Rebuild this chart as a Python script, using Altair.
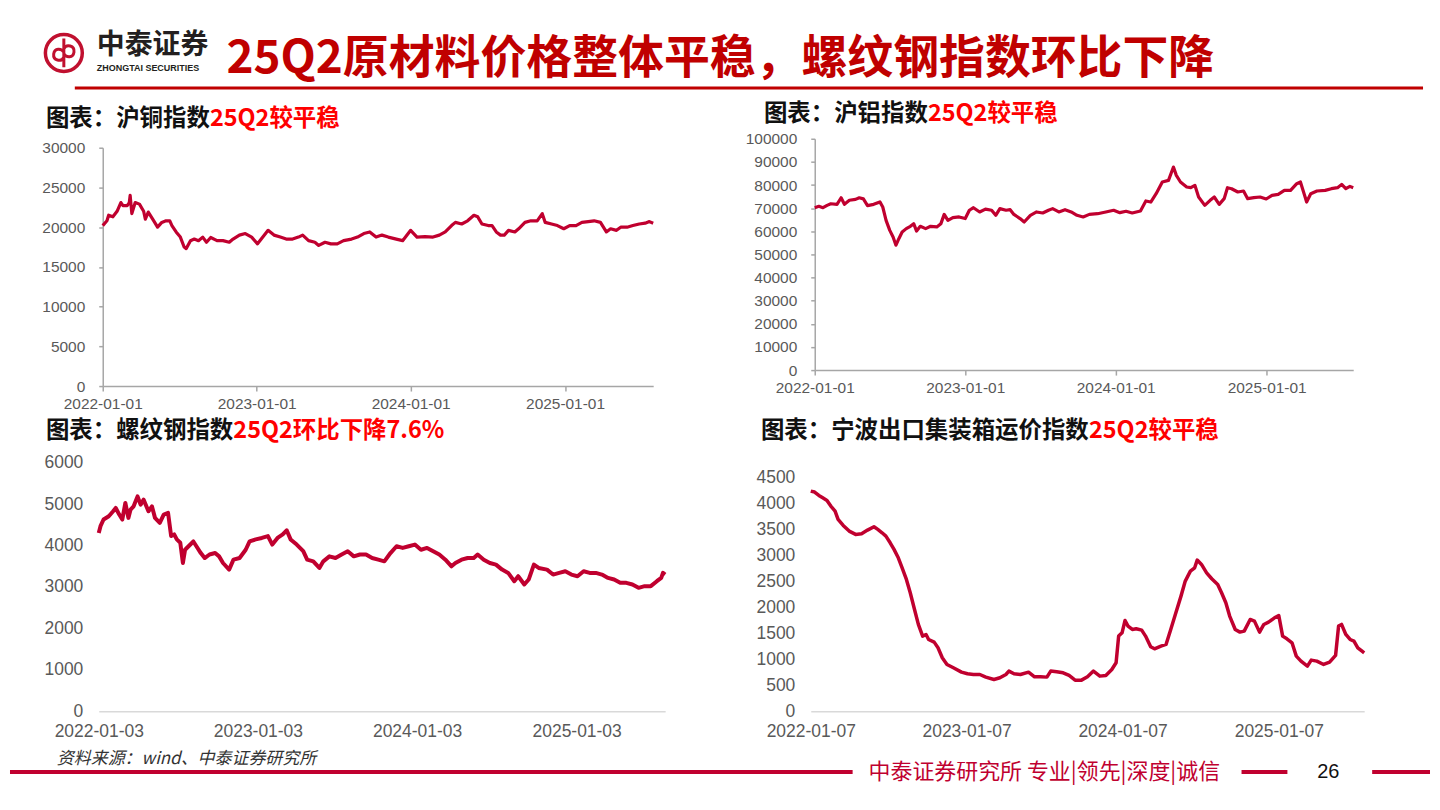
import altair as alt
import pandas as pd

# ---------------- data ----------------
# 沪铜指数 (top left)
cu_dates = [
    "2022-01-01", "2022-01-11", "2022-01-15", "2022-01-25", "2022-02-04", "2022-02-13", "2022-02-18",
    "2022-02-28", "2022-03-05", "2022-03-07", "2022-03-11", "2022-03-19", "2022-03-29", "2022-04-08",
    "2022-04-12", "2022-04-19", "2022-05-02", "2022-05-11", "2022-05-21", "2022-05-31", "2022-06-09",
    "2022-06-14", "2022-06-24", "2022-07-04", "2022-07-13", "2022-07-18", "2022-07-28", "2022-08-06",
    "2022-08-16", "2022-08-26", "2022-09-04", "2022-09-14", "2022-09-29", "2022-10-13", "2022-10-28",
    "2022-11-06", "2022-11-21", "2022-12-05", "2022-12-20", "2023-01-03", "2023-01-28", "2023-02-11",
    "2023-02-26", "2023-03-12", "2023-03-27", "2023-04-10", "2023-04-20", "2023-05-04", "2023-05-19",
    "2023-05-28", "2023-06-12", "2023-06-26", "2023-07-11", "2023-07-26", "2023-08-14", "2023-08-28",
    "2023-09-12", "2023-09-26", "2023-10-11", "2023-10-25", "2023-11-09", "2023-11-28", "2023-12-13",
    "2024-01-01", "2024-01-16", "2024-02-04", "2024-02-23", "2024-03-09", "2024-03-23", "2024-04-07",
    "2024-04-16", "2024-05-01", "2024-05-15", "2024-05-30", "2024-06-08", "2024-06-18", "2024-07-03",
    "2024-07-12", "2024-07-22", "2024-08-01", "2024-08-10", "2024-08-20", "2024-09-04", "2024-09-13",
    "2024-09-28", "2024-10-12", "2024-10-27", "2024-11-08", "2024-11-15", "2024-11-30", "2024-12-14",
    "2024-12-29", "2025-01-12", "2025-01-27", "2025-02-10", "2025-02-25", "2025-03-11", "2025-03-26",
    "2025-04-09", "2025-04-19", "2025-05-03", "2025-05-13", "2025-05-28", "2025-06-11", "2025-06-26",
    "2025-07-10", "2025-07-20", "2025-07-29",
]
cu_vals = [
    20200, 20800, 21500, 21300, 22000, 23100, 22700,
    22700, 23100, 24000, 21700, 23100, 22900, 22000,
    21000, 21900, 20800, 20000, 20600, 20800, 20800,
    20200, 19400, 18750, 17500, 17300, 18300, 18500,
    18300, 18750, 18100, 18700, 18300, 18300, 18100,
    18500, 19000, 19200, 18750, 17900, 19600, 19000,
    18750, 18500, 18500, 18750, 19000, 18300, 18100,
    17700, 18100, 17900, 17900, 18300, 18500, 18750,
    19200, 19400, 18750, 19000, 18750, 18500, 18300,
    19600, 18750, 18800, 18750, 19000, 19400, 20200,
    20600, 20400, 20800, 21500, 21300, 20400, 20200,
    20200, 19400, 19000, 19000, 19600, 19400, 19800,
    20600, 20800, 20800, 21700, 20600, 20400, 20200,
    19800, 20200, 20200, 20600, 20700, 20800, 20600,
    19400, 19800, 19600, 20000, 20000, 20200, 20400,
    20500, 20700, 20500,
]

# 沪铝指数 (top right)
al_dates = [
    "2022-01-01", "2022-01-11", "2022-01-21", "2022-01-31", "2022-02-09", "2022-02-24", "2022-03-06",
    "2022-03-14", "2022-03-26", "2022-04-10", "2022-04-19", "2022-04-29", "2022-05-09", "2022-05-24",
    "2022-06-08", "2022-06-15", "2022-06-23", "2022-07-02", "2022-07-10", "2022-07-17", "2022-07-24",
    "2022-08-01", "2022-08-11", "2022-08-21", "2022-08-29", "2022-09-05", "2022-09-14", "2022-09-27",
    "2022-10-09", "2022-10-24", "2022-11-03", "2022-11-11", "2022-11-20", "2022-12-02", "2022-12-17",
    "2023-01-01", "2023-01-11", "2023-01-21", "2023-02-05", "2023-02-19", "2023-03-06", "2023-03-16",
    "2023-03-26", "2023-04-10", "2023-04-20", "2023-04-29", "2023-05-14", "2023-05-24", "2023-06-08",
    "2023-06-23", "2023-07-08", "2023-07-22", "2023-08-01", "2023-08-16", "2023-08-31", "2023-09-15",
    "2023-09-29", "2023-10-14", "2023-10-29", "2023-11-18", "2023-12-08", "2023-12-27", "2024-01-11",
    "2024-01-26", "2024-02-10", "2024-03-01", "2024-03-14", "2024-03-26", "2024-04-08", "2024-04-23",
    "2024-05-08", "2024-05-20", "2024-05-27", "2024-06-06", "2024-06-21", "2024-07-01", "2024-07-11",
    "2024-07-20", "2024-08-04", "2024-08-17", "2024-08-27", "2024-09-08", "2024-09-20", "2024-09-28",
    "2024-10-08", "2024-10-23", "2024-11-06", "2024-11-16", "2024-12-01", "2024-12-16", "2024-12-31",
    "2025-01-14", "2025-01-29", "2025-02-13", "2025-02-28", "2025-03-15", "2025-03-24", "2025-04-03",
    "2025-04-08", "2025-04-18", "2025-05-03", "2025-05-23", "2025-06-07", "2025-06-22", "2025-07-02",
    "2025-07-12", "2025-07-22", "2025-07-30",
]
al_vals = [
    70200, 70800, 70200, 71200, 71900, 71650, 74500,
    71650, 73400, 73800, 74500, 74000, 71100, 71650,
    72700, 70500, 64700, 60400, 57550, 54000, 56800,
    59700, 61150, 62150, 63300, 60100, 62150, 61150,
    62150, 61900, 63300, 67300, 64700, 65900, 66200,
    65500, 69100, 70200, 68350, 69600, 69100, 66900,
    69800, 69100, 69350, 67300, 65500, 64000, 66900,
    68350, 67900, 69100, 69800, 68350, 69350, 68350,
    66900, 66200, 67300, 67600, 68350, 69100, 68050,
    68650, 67900, 68800, 73100, 72650, 76260, 81300,
    82000, 87770, 84170, 81300, 79140, 78850, 79860,
    74820, 71220, 73380, 74820, 71650, 74100, 78850,
    78400, 76980, 77400, 74100, 74530, 74820, 73960,
    75540, 75970, 77700, 77700, 80580, 81300, 75540,
    72660, 76260, 77410, 77700, 78420, 78850, 80280,
    78420, 79420, 78850,
]

# 螺纹钢指数 (bottom left)
rb_dates = [
    "2022-01-03", "2022-01-07", "2022-01-14", "2022-01-26", "2022-02-05", "2022-02-11", "2022-02-19",
    "2022-02-26", "2022-03-05", "2022-03-12", "2022-03-17", "2022-03-24", "2022-04-02", "2022-04-09",
    "2022-04-16", "2022-04-27", "2022-05-05", "2022-05-12", "2022-05-23", "2022-06-01", "2022-06-11",
    "2022-06-18", "2022-06-25", "2022-07-01", "2022-07-09", "2022-07-15", "2022-07-20", "2022-07-28",
    "2022-08-08", "2022-08-15", "2022-08-25", "2022-09-03", "2022-09-14", "2022-09-27", "2022-10-06",
    "2022-10-15", "2022-10-29", "2022-11-08", "2022-11-22", "2022-12-06", "2022-12-15", "2022-12-29",
    "2023-01-12", "2023-01-26", "2023-02-05", "2023-02-17", "2023-03-01", "2023-03-10", "2023-03-19",
    "2023-04-02", "2023-04-17", "2023-04-26", "2023-05-10", "2023-05-24", "2023-06-02", "2023-06-16",
    "2023-06-30", "2023-07-14", "2023-07-28", "2023-08-11", "2023-08-25", "2023-09-08", "2023-09-22",
    "2023-10-06", "2023-10-20", "2023-11-03", "2023-11-17", "2023-12-01", "2023-12-15", "2023-12-29",
    "2024-01-12", "2024-01-26", "2024-02-09", "2024-02-23", "2024-03-08", "2024-03-22", "2024-03-31",
    "2024-04-14", "2024-04-28", "2024-05-12", "2024-05-21", "2024-06-04", "2024-06-18", "2024-07-02",
    "2024-07-16", "2024-07-30", "2024-08-13", "2024-08-22", "2024-09-05", "2024-09-15", "2024-09-27",
    "2024-10-08", "2024-10-27", "2024-11-10", "2024-11-24", "2024-12-08", "2024-12-22", "2025-01-05",
    "2025-01-19", "2025-02-02", "2025-02-16", "2025-03-02", "2025-03-16", "2025-03-30", "2025-04-13",
    "2025-04-27", "2025-05-11", "2025-05-25", "2025-06-08", "2025-06-22", "2025-07-06", "2025-07-16",
    "2025-07-20", "2025-07-25",
]
rb_vals = [
    4307, 4470, 4630, 4710, 4830, 4910, 4750,
    4630, 5030, 4670, 4870, 4950, 5190, 4990,
    5110, 4830, 4950, 4670, 4550, 4750, 4790,
    4230, 4270, 4150, 4070, 3580, 3900, 3985,
    4100, 3985, 3820, 3700, 3785, 3820, 3740,
    3580, 3420, 3660, 3700, 3900, 4100, 4150,
    4185, 4230, 4025, 4185, 4270, 4370, 4150,
    4025, 3865, 3660, 3620, 3460, 3620, 3740,
    3700, 3785, 3865, 3740, 3785, 3785, 3700,
    3660, 3620, 3820, 3985, 3945, 3985, 4025,
    3900, 3945, 3865, 3785, 3660, 3500, 3580,
    3660, 3700, 3700, 3785, 3660, 3580, 3540,
    3420, 3340, 3140, 3260, 3060, 3180, 3540,
    3460, 3420, 3300, 3340, 3380, 3300, 3260,
    3380, 3340, 3340, 3300, 3220, 3180, 3100,
    3100, 3060, 2980, 3020, 3020, 3140, 3220,
    3340, 3300,
]

# 宁波出口集装箱运价指数 (bottom right, weekly)
nb_dates = [
    "2022-01-07", "2022-01-16", "2022-01-26", "2022-02-04", "2022-02-14", "2022-02-23", "2022-03-05",
    "2022-03-12", "2022-03-24", "2022-04-07", "2022-04-22", "2022-05-06", "2022-05-20", "2022-06-04",
    "2022-06-13", "2022-06-23", "2022-07-02", "2022-07-12", "2022-07-21", "2022-07-31", "2022-08-09",
    "2022-08-19", "2022-08-28", "2022-09-07", "2022-09-16", "2022-09-26", "2022-10-04", "2022-10-10",
    "2022-10-23", "2022-11-01", "2022-11-11", "2022-11-22", "2022-12-07", "2022-12-26", "2023-01-09",
    "2023-01-23", "2023-02-07", "2023-02-21", "2023-03-12", "2023-03-26", "2023-04-09", "2023-04-16",
    "2023-04-28", "2023-05-13", "2023-06-01", "2023-06-15", "2023-06-29", "2023-07-14", "2023-07-23",
    "2023-08-06", "2023-08-21", "2023-09-04", "2023-09-18", "2023-10-03", "2023-10-17", "2023-10-31",
    "2023-11-15", "2023-11-29", "2023-12-13", "2023-12-23", "2023-12-29", "2024-01-06", "2024-01-13",
    "2024-01-20", "2024-01-30", "2024-02-08", "2024-02-21", "2024-03-01", "2024-03-13", "2024-03-22",
    "2024-04-06", "2024-04-18", "2024-04-29", "2024-05-11", "2024-05-23", "2024-06-02", "2024-06-14",
    "2024-06-24", "2024-06-30", "2024-07-10", "2024-07-22", "2024-08-03", "2024-08-17", "2024-08-26",
    "2024-09-05", "2024-09-14", "2024-09-27", "2024-10-08", "2024-10-18", "2024-11-01", "2024-11-11",
    "2024-11-23", "2024-12-03", "2024-12-14", "2024-12-28", "2025-01-07", "2025-01-16", "2025-01-26",
    "2025-02-07", "2025-02-17", "2025-02-28", "2025-03-15", "2025-03-24", "2025-04-06", "2025-04-22",
    "2025-05-06", "2025-05-20", "2025-05-27", "2025-06-03", "2025-06-13", "2025-06-23", "2025-07-02",
    "2025-07-11", "2025-07-21", "2025-07-26",
]
nb_vals = [
    4244, 4225, 4160, 4115, 4064, 3955, 3858,
    3697, 3582, 3472, 3408, 3421, 3491, 3556,
    3504, 3440, 3376, 3247, 3119, 2958, 2765,
    2540, 2283, 1961, 1672, 1447, 1479, 1382,
    1331, 1222, 1029, 900, 836, 752, 720,
    707, 707, 656, 611, 643, 707, 772,
    720, 707, 752, 662, 662, 656, 772,
    759, 739, 688, 598, 598, 662, 772,
    675, 688, 804, 932, 1447, 1511, 1749,
    1640, 1575, 1588, 1562, 1447, 1241, 1202,
    1254, 1286, 1575, 1897, 2218, 2508, 2700,
    2765, 2913, 2829, 2668, 2553, 2443, 2283,
    2090, 1833, 1575, 1524, 1543, 1768, 1736,
    1524, 1672, 1717, 1800, 1845, 1447, 1395,
    1318, 1061, 964, 868, 984, 964, 900,
    945, 1074, 1640, 1672, 1479, 1382, 1350,
    1222, 1157, 1125,
]

# ---------------- styling ----------------
LINE = "#C0002F"
DARK_RED = "#C00000"
GRAY = "#595959"
AXIS = "#A6A6A6"
CJK = "Noto Sans CJK SC"
LAT = "Liberation Sans"
TFS = 23.5  # panel title font size

ONE = pd.DataFrame({"k": [0]})


def text(t, x, y, size, color, weight="bold", font=CJK, align="left", style="normal"):
    return (
        alt.Chart(ONE)
        .mark_text(text=t, font=font, fontSize=size, fontWeight=weight, fontStyle=style,
                   color=color, align=align, baseline="middle")
        .encode(x=alt.value(x), y=alt.value(y))
    )


def hline(x1, x2, y, color, width):
    return (
        alt.Chart(ONE)
        .mark_rule(color=color, strokeWidth=width)
        .encode(x=alt.value(x1), x2=alt.value(x2), y=alt.value(y))
    )


def gap(w=1, h=1):
    # empty grid cell (invisible, zero-extent mark so it does not pad the layout)
    return alt.Chart(ONE).mark_point(size=1, opacity=0, strokeWidth=0).properties(width=w, height=h)


def dt(s):
    y, m, d = (int(p) for p in s.split("-"))
    return alt.DateTime(year=y, month=m, date=d, utc=True)


def panel(dates, vals, ymax, ystep, width, height, xr, yr, framed, fs, lw,
          ypad, xpad, xoff, yoff, black, red, tx, ty):
    df = pd.DataFrame({"date": dates, "value": vals})
    day = dates[0][4:]
    years = [dt(f"{y}{day}") for y in (2022, 2023, 2024, 2025)]
    x_axis = alt.Axis(
        title=None, values=years, format="%Y-%m-%d", labelFlush=False, labelOverlap=False,
        labelFont=LAT, labelFontSize=fs, labelColor=GRAY, grid=False,
        domainColor=AXIS if framed else "#D9D9D9", domainWidth=1.5,
        ticks=framed, tickSize=5 if framed else 0, tickColor=AXIS, tickWidth=1.5,
        labelPadding=xpad, offset=xoff,
    )
    y_axis = alt.Axis(
        title=None, values=list(range(0, ymax + 1, ystep)), format="d", labelFont=LAT,
        labelFontSize=fs, labelColor=GRAY, grid=False, domain=framed, domainColor=AXIS,
        domainWidth=1.5, ticks=framed, tickSize=4 if framed else 0, tickColor=AXIS,
        tickWidth=1.5, labelPadding=ypad, offset=yoff,
    )
    line = (
        alt.Chart(df)
        .mark_line(color=LINE, strokeWidth=lw, strokeJoin="round")
        .encode(
            x=alt.X("date:T", axis=x_axis,
                    scale=alt.Scale(type="utc", domain=[dt(dates[0]), dt(dates[-1])],
                                    range=xr, nice=False)),
            y=alt.Y("value:Q", axis=y_axis,
                    scale=alt.Scale(domain=[0, ymax], range=yr, nice=False)),
        )
    )
    n = len(black)
    return alt.layer(
        line,
        text(black, tx, ty, TFS, "#111111"),
        text(red, tx + n * TFS, ty, TFS, "#FF0000"),
    ).properties(width=width, height=height)


# grid columns: 89 | 568 | 146 | 555  ->  panels start at page x 97 and 811
# grid rows:    130 | 248 | 77 | 249 | 90
p1 = panel(cu_dates, cu_vals, 30000, 5000, 568, 248, [4, 556], [248, 9], True, 15.5, 3.2,
           14, 6, 0, -4, "图表：沪铜指数", "25Q2较平稳", -53, -20)
p2 = panel(al_dates, al_vals, 100000, 10000, 555, 248, [4, 544], [232, 0], True, 15.5, 3.2,
           14, 5.5, -16, -4, "图表：沪铝指数", "25Q2较平稳", -47, -25)
p3 = panel(rb_dates, rb_vals, 6000, 1000, 568, 249, [0, 568], [249, 0], False, 17.5, 4,
           16, 11, 0, 0, "图表：螺纹钢指数", "25Q2环比下降7.6%", -53, -32)
p4 = panel(nb_dates, nb_vals, 4500, 500, 555, 249, [0, 555], [249, 15], False, 17.5, 3.5,
           16, 11, 0, 0, "图表：宁波出口集装箱运价指数", "25Q2较平稳", -50, -32)

# ---------------- header ----------------
logo_path = ("M0,-0.85 L0,0.85 "
             "M0,0.25 C-0.15,0.55 -0.65,0.45 -0.6,0.05 C-0.55,-0.3 -0.15,-0.3 0,-0.05 "
             "M0,-0.25 C0.15,-0.55 0.65,-0.45 0.6,-0.05 C0.55,0.3 0.15,0.3 0,0.05")
header = alt.layer(
    alt.Chart(ONE).mark_point(shape="circle", size=1369, filled=False, color="#C0102F",
                              strokeWidth=3.5, opacity=1).encode(x=alt.value(54), y=alt.value(44)),
    alt.Chart(ONE).mark_point(shape=logo_path, size=1150, filled=False, color="#C0102F",
                              strokeWidth=3, opacity=1).encode(x=alt.value(54), y=alt.value(44)),
    text("中泰证券", 87, 37, 28, "#231F20"),
    text("ZHONGTAI SECURITIES", 87, 59, 9, "#231F20", font=LAT),
    text("25Q2原材料价格整体平稳，螺纹钢指数环比下降", 217, 50, 46, DARK_RED),
    hline(65, 1417, 79, DARK_RED, 3),
).properties(width=89, height=130)

# ---------------- footer ----------------
footer = alt.layer(
    text("资料来源：wind、中泰证券研究所", 47, 48, 17, "#333333", weight="normal", style="italic"),
    hline(0, 845, 61, LINE, 4),
    text("中泰证券研究所 专业|领先|深度|诚信", 861, 61, 22, LINE, weight="normal"),
    hline(1235, 1281, 61, LINE, 4),
    text("26", 1322, 61, 20, "#111111", weight="normal", font=LAT, align="center"),
    hline(1366, 1424, 61, LINE, 4),
).properties(width=89, height=90)

cells = [
    header, gap(), gap(), gap(),
    gap(), p1, gap(146, 1), p2,
    gap(1, 77), gap(), gap(), gap(),
    gap(), p3, gap(), p4,
    footer, gap(), gap(), gap(),
]

chart = alt.concat(
    *cells, columns=4, spacing=0, bounds="flush"
).properties(padding=0, background="white").configure_view(stroke=None)

chart.save("out.html", embed_options={"renderer": "svg", "actions": False})
